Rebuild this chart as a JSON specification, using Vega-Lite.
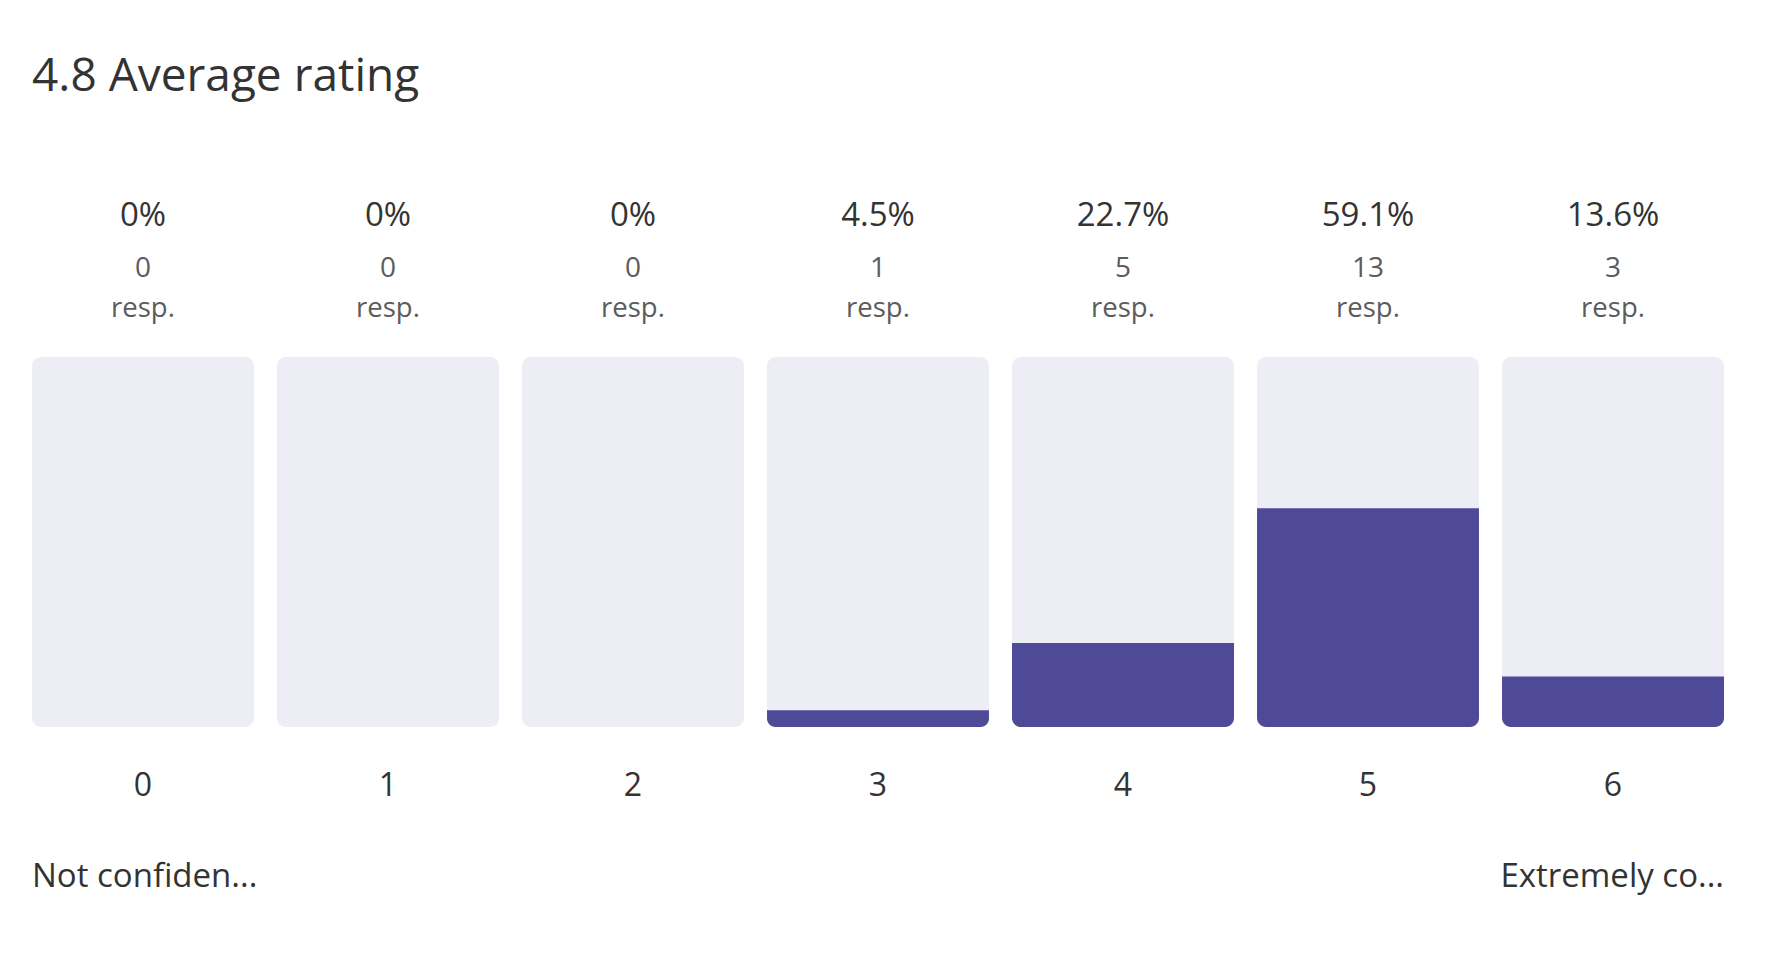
{
  "$schema": "https://vega.github.io/schema/vega-lite/v6.json",
  "autosize": "none",
  "width": 1692,
  "height": 370,
  "padding": {"left": 32, "top": 357, "right": 45, "bottom": 245},
  "background": "white",
  "config": {"view": {"stroke": null}, "font": "Open Sans"},
  "title": {
    "text": "4.8 Average rating",
    "anchor": "start",
    "frame": "group",
    "baseline": "alphabetic",
    "offset": 63,
    "fontSize": 46,
    "fontWeight": "normal",
    "font": "Open Sans",
    "color": "#333333"
  },
  "data": {
    "values": [
      {"rating": "0", "share": 0, "count": 0},
      {"rating": "1", "share": 0, "count": 0},
      {"rating": "2", "share": 0, "count": 0},
      {"rating": "3", "share": 0.04545, "count": 1},
      {"rating": "4", "share": 0.22727, "count": 5},
      {"rating": "5", "share": 0.59091, "count": 13},
      {"rating": "6", "share": 0.13636, "count": 3}
    ]
  },
  "encoding": {
    "x": {
      "field": "rating",
      "type": "ordinal",
      "sort": null,
      "scale": {"paddingInner": 0.094, "paddingOuter": 0},
      "axis": {
        "title": null,
        "labelAngle": 0,
        "ticks": false,
        "tickSize": 0,
        "domain": false,
        "grid": false,
        "labelFontSize": 32,
        "labelFont": "Open Sans",
        "labelColor": "#333333",
        "labelBaseline": "middle",
        "labelPadding": 58
      }
    }
  },
  "layer": [
    {
      "mark": {"type": "bar", "color": "#EDEDF5", "cornerRadius": 9},
      "encoding": {
        "y": {"datum": 1, "type": "quantitative", "scale": {"domain": [0, 1]}, "axis": null},
        "y2": {"datum": 0}
      }
    },
    {
      "mark": {"type": "bar", "color": "#4E4A98", "cornerRadiusBottomLeft": 9, "cornerRadiusBottomRight": 9},
      "encoding": {
        "y": {"field": "share", "type": "quantitative", "scale": {"domain": [0, 1]}, "axis": null},
        "y2": {"datum": 0}
      }
    },
    {
      "mark": {"type": "text", "fontSize": 33, "color": "#333333", "baseline": "middle", "dy": -141},
      "encoding": {
        "y": {"datum": 1, "type": "quantitative"},
        "text": {"field": "share", "type": "quantitative", "format": ".1~%"}
      }
    },
    {
      "mark": {"type": "text", "fontSize": 28, "color": "#5c5c5c", "baseline": "middle", "dy": -88},
      "encoding": {
        "y": {"datum": 1, "type": "quantitative"},
        "text": {"field": "count", "type": "quantitative"}
      }
    },
    {
      "mark": {"type": "text", "fontSize": 27.5, "color": "#5c5c5c", "baseline": "alphabetic", "dy": -40, "text": "resp."},
      "encoding": {
        "y": {"datum": 1, "type": "quantitative"}
      }
    },
    {
      "data": {"values": [{"rating": "0", "label": "Not confiden..."}]},
      "mark": {"type": "text", "fontSize": 33, "color": "#333333", "baseline": "middle", "align": "left", "dy": 150},
      "encoding": {
        "x": {"field": "rating", "type": "ordinal", "bandPosition": 0},
        "y": {"datum": 0, "type": "quantitative"},
        "text": {"field": "label"}
      }
    },
    {
      "data": {"values": [{"rating": "6", "label": "Extremely co..."}]},
      "mark": {"type": "text", "fontSize": 33, "color": "#333333", "baseline": "middle", "align": "right", "dy": 150},
      "encoding": {
        "x": {"field": "rating", "type": "ordinal", "bandPosition": 1},
        "y": {"datum": 0, "type": "quantitative"},
        "text": {"field": "label"}
      }
    }
  ]
}
